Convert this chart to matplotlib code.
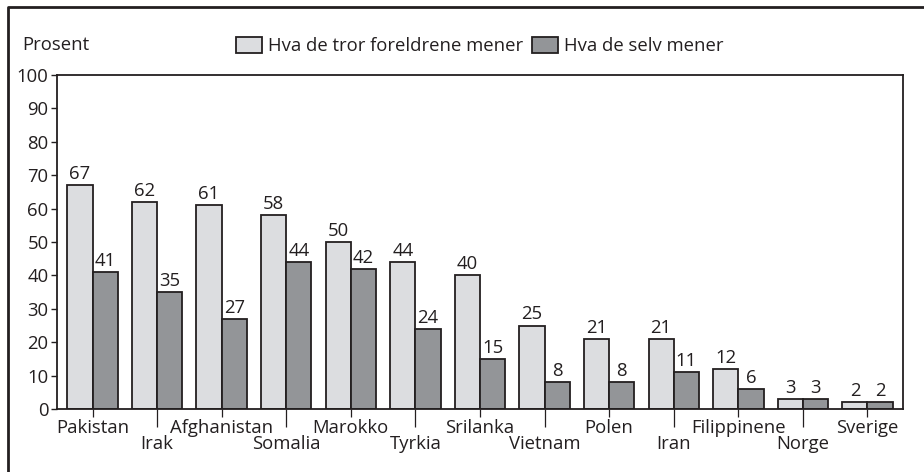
import numpy as np
import matplotlib.pyplot as plt
from matplotlib.lines import Line2D
from matplotlib.patches import Patch

plt.rcParams['font.family'] = ['Open Sans', 'DejaVu Sans']

countries = ['Pakistan', 'Irak', 'Afghanistan', 'Somalia', 'Marokko', 'Tyrkia',
             'Srilanka', 'Vietnam', 'Polen', 'Iran', 'Filippinene', 'Norge', 'Sverige']
foreldre = [67, 62, 61, 58, 50, 44, 40, 25, 21, 21, 12, 3, 2]
selv = [41, 35, 27, 44, 42, 24, 15, 8, 8, 11, 6, 3, 2]
series_names = ['Hva de tror foreldrene mener', 'Hva de selv mener']

light = '#dcdde0'
dark = '#939598'
edge = '#231f20'
fs = 13.3

fig = plt.figure(figsize=(9.24, 4.72), dpi=100)
ax = fig.add_axes([57 / 924, 1 - 409 / 472, 846 / 924, 334 / 472])

x = np.arange(len(countries))
w = 0.39
b1 = ax.bar(x - w / 2, foreldre, w, color=light, edgecolor=edge, linewidth=1.3)
b2 = ax.bar(x + w / 2, selv, w, color=dark, edgecolor=edge, linewidth=1.3)
for bars in (b1, b2):
    for r in bars:
        ax.text(r.get_x() + r.get_width() / 2, r.get_height() + 0.6, f'{r.get_height():.0f}',
                ha='center', va='bottom', fontsize=fs, color=edge)

ax.set_xlim(-0.55, len(countries) - 0.45)
ax.set_ylim(0, 100)
ax.set_yticks(range(0, 101, 10))
ax.tick_params(axis='y', direction='out', length=4.5, width=1, pad=1.5,
               labelsize=fs, colors=edge)

ax.set_xticks(x[::2], countries[::2])
ax.set_xticks(x[1::2], countries[1::2], minor=True)
ax.tick_params(axis='x', which='major', length=6, width=0.9, pad=1, labelsize=fs, colors=edge)
ax.tick_params(axis='x', which='minor', length=13, width=0.9, pad=5.5, labelsize=fs, colors=edge)

for s in ax.spines.values():
    s.set_linewidth(1.3)
    s.set_color(edge)

fig.text(22 / 924, 1 - 45 / 472, 'Prosent', ha='left', va='center', fontsize=fs, color=edge)

handles = [Patch(facecolor=light, edgecolor=edge, linewidth=1.3),
           Patch(facecolor=dark, edgecolor=edge, linewidth=1.3)]
fig.legend(handles, series_names, loc='center left', bbox_to_anchor=(229 / 924, 1 - 46 / 472),
           ncol=2, frameon=False, fontsize=fs, handlelength=1.4, handleheight=0.95,
           handletextpad=0.3, columnspacing=0.5, borderaxespad=0, labelcolor=edge)

# outer frame (left and top edges)
fig.add_artist(Line2D([8 / 924, 8 / 924, 1], [0, 1 - 7 / 472, 1 - 7 / 472],
                      transform=fig.transFigure, color=edge, linewidth=2))

fig.savefig('out.png', dpi=100)
